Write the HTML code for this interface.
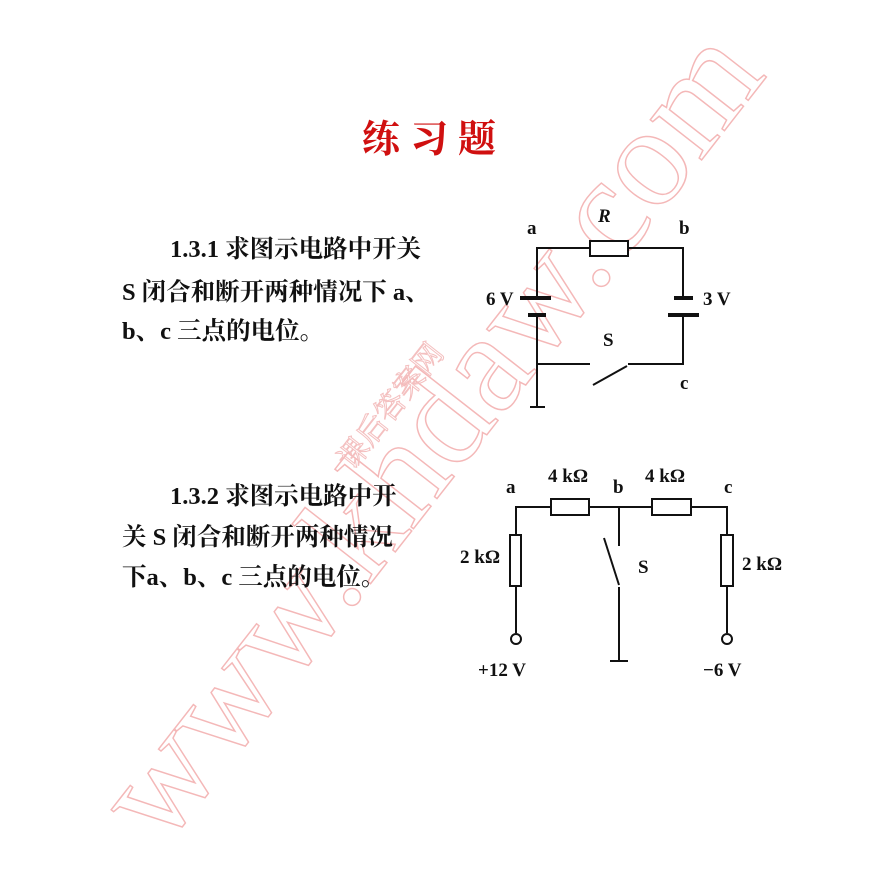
<!DOCTYPE html>
<html><head><meta charset="utf-8"><style>
body{margin:0;width:870px;height:842px;background:#fff;position:relative;overflow:hidden;font-family:"Liberation Serif","Noto Serif CJK SC",serif}
.t{position:absolute;font-size:24.5px;font-weight:bold;color:#111;white-space:nowrap;line-height:1}
</style></head><body>
<div style="position:absolute;left:0;top:0;width:870px;height:842px;">
<div style="position:absolute;left:60px;top:770px;transform:rotate(-52deg);transform-origin:left top;font-family:'Liberation Serif',serif;font-size:142px;color:transparent;-webkit-text-stroke:1.5px #f4b8b8;white-space:nowrap;letter-spacing:0px">www.khdaw.com</div>
<div style="position:absolute;left:325px;top:450px;transform:rotate(-52deg);transform-origin:left top;font-size:30px;color:transparent;-webkit-text-stroke:1px #f4c0c0;white-space:nowrap;font-family:'Noto Serif CJK SC',serif">课后答案网</div>
</div>
<div class="t" style="left:362px;top:117px;font-size:38px;color:#d01010;font-family:'Noto Serif CJK SC',serif;letter-spacing:10px">练习题</div>
<div class="t" style="left:170px;top:238px">1.3.1 求图示电路中开关</div>
<div class="t" style="left:122px;top:281px">S 闭合和断开两种情况下 a、</div>
<div class="t" style="left:122px;top:320px">b、c 三点的电位。</div>
<div class="t" style="left:170px;top:485px">1.3.2 求图示电路中开</div>
<div class="t" style="left:122px;top:526px">关 S 闭合和断开两种情况</div>
<div class="t" style="left:122px;top:566px">下a、b、c 三点的电位。</div>
<svg width="870" height="842" style="position:absolute;left:0;top:0" font-family="Liberation Serif" font-weight="bold" font-size="19" fill="#111">
<g stroke="#111" stroke-width="2" fill="none">
<path d="M537 298V248H590M628 248H683V298M683 315V364H628M590 364H537V407M537 315V364"/>
<rect x="590" y="241" width="38" height="15" fill="#fff"/>
<path d="M593 385L627 366"/>
<path d="M520 298H551M528 315H546M674 298H693M668 315H699" stroke-width="4"/>
<path d="M530 407H545"/>
<path d="M516 535V507H551M589 507H652M691 507H727V535M516 586V633M727 586V633M619 507V546M619 587V661M610 661H628"/>
<rect x="551" y="499" width="38" height="16" fill="#fff"/>
<rect x="652" y="499" width="39" height="16" fill="#fff"/>
<rect x="510" y="535" width="11" height="51" fill="#fff"/>
<rect x="721" y="535" width="12" height="51" fill="#fff"/>
<path d="M604 538L619 585"/>
<circle cx="516" cy="639" r="5"/><circle cx="727" cy="639" r="5"/>
</g>
<text x="527" y="234">a</text><text x="598" y="222" font-style="italic">R</text><text x="679" y="234">b</text>
<text x="486" y="305">6 V</text><text x="703" y="305">3 V</text>
<text x="603" y="346">S</text><text x="680" y="389">c</text>
<text x="506" y="493">a</text><text x="548" y="482">4 kΩ</text><text x="613" y="493">b</text>
<text x="645" y="482">4 kΩ</text><text x="724" y="493">c</text>
<text x="460" y="563">2 kΩ</text><text x="742" y="570">2 kΩ</text><text x="638" y="573">S</text>
<text x="478" y="676">+12 V</text><text x="703" y="676">−6 V</text>
</svg>
</body></html>
